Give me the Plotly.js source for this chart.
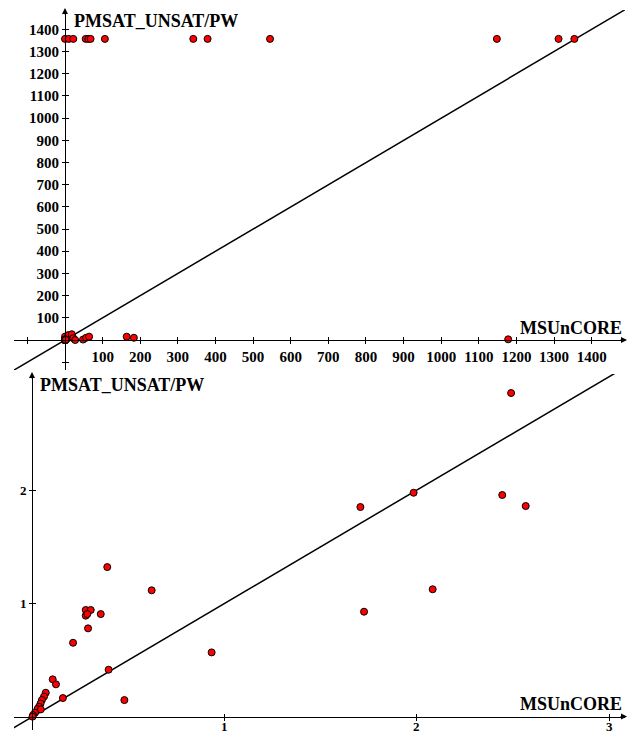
<!DOCTYPE html>
<html>
<head>
<meta charset="utf-8">
<script src="https://cdn.plot.ly/plotly-3.0.1.min.js"></script>
<style>html,body{margin:0;padding:0;background:#fff;}#chart{width:631px;height:733px;}</style>
</head>
<body>
<div id="chart"></div>
<script>
// ---- data ----
// MSUnCORE time (x) vs PMSAT_UNSAT/PW time (y)
const msuncore = [
  0, 10, 22, 55, 62, 68, 106, 341, 379, 545, 1148, 1312, 1354,
  0, 9, 18, 22, 27, 48, 56, 64, 164, 183, 1178,
  0.389, 0.620, 0.277, 0.303, 0.277, 0.285, 0.355, 0.289, 0.211, 0.932,
  0.396, 0.105, 0.122, 0.478, 0.158,
  0.069, 0.060, 0.049, 0.042, 0.034, 0.026, 0.043, 0.013, 0.003, 0,
  2.490, 1.983, 2.444, 2.566, 1.706, 2.082, 1.725
];
const pmsat = [
  1357, 1357, 1357, 1357, 1357, 1357, 1357, 1357, 1357, 1357, 1357, 1357, 1357,
  15, 22, 26, 8, 0, 2, 10, 15, 15, 10, 3,
  1.320, 1.115, 0.941, 0.941, 0.891, 0.905, 0.905, 0.779, 0.652, 0.567,
  0.414, 0.329, 0.285, 0.146, 0.164,
  0.211, 0.177, 0.147, 0.116, 0.087, 0.067, 0.064, 0.034, 0.014, 0,
  2.856, 1.976, 1.956, 1.859, 1.850, 1.124, 0.926
];
// diagonal y = x
const diagTop = [-300, 1700];
const diagBottom = [-1, 4];
// ticks
const topTickVals = [-100, 100, 200, 300, 400, 500, 600, 700, 800, 900, 1000, 1100, 1200, 1300, 1400];
const topTickText = ['', '100', '200', '300', '400', '500', '600', '700', '800', '900', '1000', '1100', '1200', '1300', '1400'];
const botXTickVals = [1, 2, 3];
const botXTickText = ['1', '2', '3'];
const botYTickVals = [1, 2];
const botYTickText = ['1', '2'];
const xTitle = 'MSUnCORE';
const yTitle = 'PMSAT_UNSAT/PW';

// ---- layout helpers (pixel -> paper) ----
const W = 631, H = 733;
const px = v => v / W;
const py = v => 1 - v / H;
const FONT = 'Liberation Serif, Times New Roman, serif';

const markerStyle = {size: 7, color: '#ff0000', line: {color: '#000000', width: 1}};
const lineStyle = {color: '#000000', width: 1.5};

const traces = [
  {x: diagTop, y: diagTop, mode: 'lines', line: lineStyle, xaxis: 'x', yaxis: 'y', hoverinfo: 'skip'},
  {x: msuncore, y: pmsat, mode: 'markers', marker: markerStyle, xaxis: 'x', yaxis: 'y'},
  {x: diagBottom, y: diagBottom, mode: 'lines', line: lineStyle, xaxis: 'x2', yaxis: 'y2', hoverinfo: 'skip'},
  {x: msuncore, y: pmsat, mode: 'markers', marker: markerStyle, xaxis: 'x2', yaxis: 'y2'},
  {x: [], y: [], mode: 'markers', xaxis: 'x3', yaxis: 'y3'},
  {x: [], y: [], mode: 'markers', xaxis: 'x4', yaxis: 'y4'}
];

const topXRange = [-135.6, 1488.6], topYRange = [-135.2, 1487.2];
const botXRange = [-0.0963, 3.0827], botYRange = [-0.118, 3.024];
const topXDom = [px(14), px(625)], topYDom = [py(370), py(10)];
const botXDom = [px(14), px(625)], botYDom = [py(730), py(374)];

function ax(base) {
  return Object.assign({
    showgrid: false, zeroline: false, showline: true, linecolor: '#000', linewidth: 1,
    ticks: 'outside', ticklen: 3, tickwidth: 1, tickcolor: '#000',
    tickmode: 'array', fixedrange: true,
    tickfont: {family: FONT, size: 15, color: '#000', weight: 'bold'}
  }, base);
}
function inner(base) {
  return Object.assign({
    showgrid: false, zeroline: false, showline: false,
    ticks: 'inside', ticklen: 3, tickwidth: 1, tickcolor: '#000',
    tickmode: 'array', showticklabels: false, fixedrange: true
  }, base);
}

const boldFont = (s) => ({family: FONT, size: s, color: '#000', weight: 'bold'});

const annotations = [
  {xref: 'paper', yref: 'paper', x: px(72), y: py(21), xanchor: 'left', yanchor: 'middle', text: yTitle, showarrow: false, font: boldFont(18)},
  {xref: 'paper', yref: 'paper', x: px(624), y: py(328), xanchor: 'right', yanchor: 'middle', text: xTitle, showarrow: false, font: boldFont(18)},
  {xref: 'paper', yref: 'paper', x: px(38), y: py(385), xanchor: 'left', yanchor: 'middle', text: yTitle, showarrow: false, font: boldFont(18)},
  {xref: 'paper', yref: 'paper', x: px(624), y: py(704), xanchor: 'right', yanchor: 'middle', text: xTitle, showarrow: false, font: boldFont(18)},
  // axis arrowheads
  {xref: 'paper', yref: 'paper', x: px(627), y: py(340), ax: -8, ay: 0, text: '', showarrow: true, arrowhead: 2, arrowsize: 1.2, arrowwidth: 1, arrowcolor: '#000'},
  {xref: 'paper', yref: 'paper', x: px(65), y: py(8), ax: 0, ay: 8, text: '', showarrow: true, arrowhead: 2, arrowsize: 1.2, arrowwidth: 1, arrowcolor: '#000'},
  {xref: 'paper', yref: 'paper', x: px(627), y: py(716.6), ax: -8, ay: 0, text: '', showarrow: true, arrowhead: 2, arrowsize: 1.2, arrowwidth: 1, arrowcolor: '#000'},
  {xref: 'paper', yref: 'paper', x: px(32), y: py(372), ax: 0, ay: 8, text: '', showarrow: true, arrowhead: 2, arrowsize: 1.2, arrowwidth: 1, arrowcolor: '#000'}
];
// bottom x tick labels placed close under the axis (as in the reference)
botXTickVals.forEach((v, i) => {
  annotations.push({xref: 'x2', yref: 'paper', x: v, y: py(726), xanchor: 'center', yanchor: 'middle',
    text: botXTickText[i], showarrow: false, font: boldFont(13)});
});

const layout = {
  width: W, height: H,
  margin: {l: 0, r: 0, t: 0, b: 0},
  paper_bgcolor: '#fff', plot_bgcolor: 'rgba(0,0,0,0)',
  showlegend: false,
  xaxis: ax({domain: topXDom, range: topXRange, anchor: 'free', position: py(340),
    tickvals: topTickVals, ticktext: topTickText}),
  yaxis: ax({domain: topYDom, range: topYRange, anchor: 'free', position: px(65),
    tickvals: topTickVals, ticktext: topTickText}),
  xaxis2: ax({domain: botXDom, range: botXRange, anchor: 'free', position: py(716.6),
    tickvals: botXTickVals, showticklabels: false}),
  yaxis2: ax({domain: botYDom, range: botYRange, anchor: 'free', position: px(32),
    tickvals: botYTickVals, ticktext: botYTickText, tickfont: boldFont(13)}),
  xaxis3: inner({domain: topXDom, range: topXRange, anchor: 'free', position: py(340), overlaying: 'x', tickvals: topTickVals}),
  yaxis3: inner({domain: topYDom, range: topYRange, anchor: 'free', position: px(65), overlaying: 'y', tickvals: topTickVals}),
  xaxis4: inner({domain: botXDom, range: botXRange, anchor: 'free', position: py(716.6), overlaying: 'x2', tickvals: botXTickVals}),
  yaxis4: inner({domain: botYDom, range: botYRange, anchor: 'free', position: px(32), overlaying: 'y2', tickvals: botYTickVals}),
  annotations: annotations
};

Plotly.newPlot('chart', traces, layout, {displayModeBar: false, staticPlot: true});
</script>
</body>
</html>
